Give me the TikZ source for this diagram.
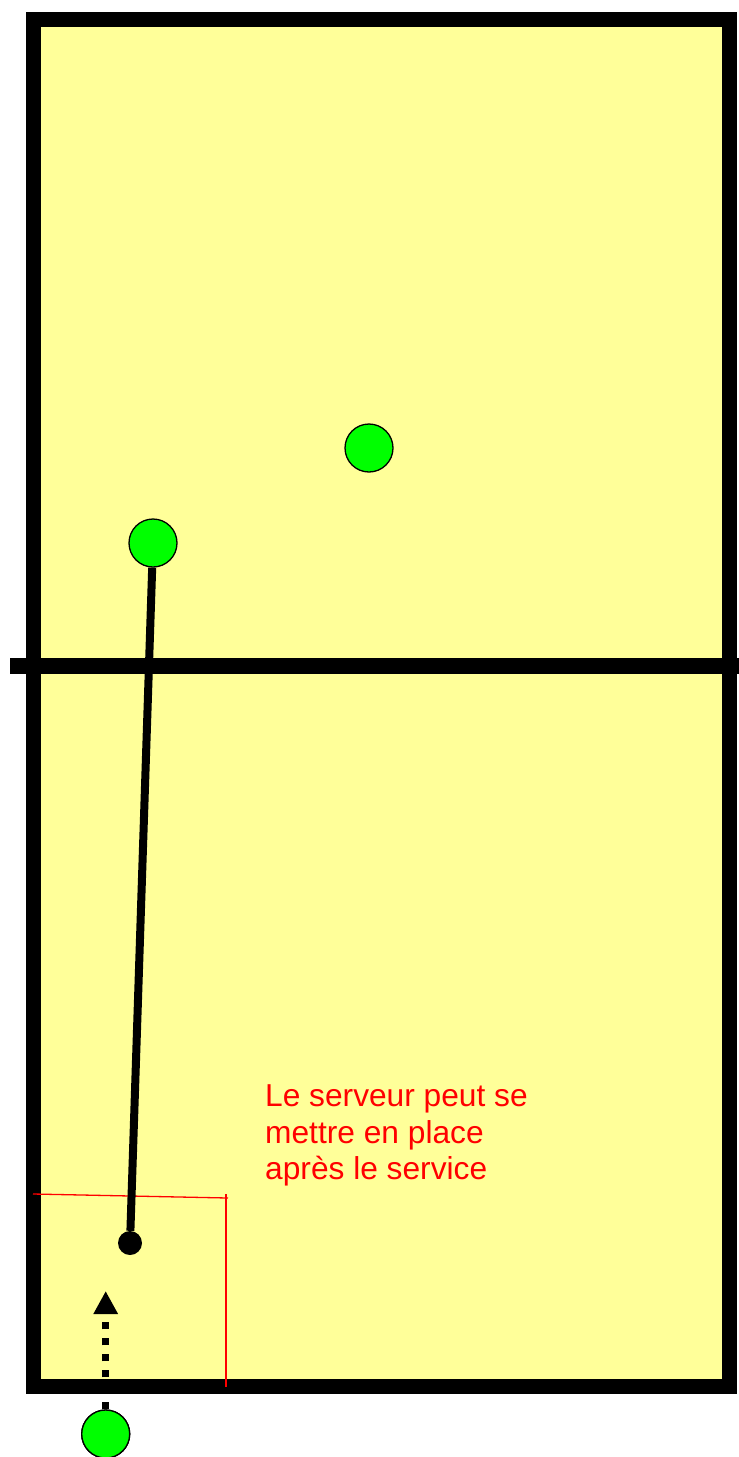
\documentclass[tikz,border=0pt]{standalone}
\usepackage{fontspec}
\setmainfont{Liberation Sans}
\usetikzlibrary{arrows.meta}
\definecolor{terrain}{RGB}{255,255,153}
\definecolor{joueur}{RGB}{0,255,0}
\begin{document}
\begin{tikzpicture}[x=1pt, y=-1pt]
                \useasboundingbox (0,0) rectangle (739,1457);
                \tikzstyle{Joueur} = [circle, draw, fill=joueur, line width=1.3pt, minimum size=48pt, inner sep=0pt]
                \tikzstyle{Ligne} = [line width=15pt]

                % 1. Court and net
                \coordinate (CoinHG) at (33.5, 19);
                \coordinate (CoinBD) at (729.5, 1386);
                \coordinate (FiletG) at (10, 666);
                \coordinate (FiletD) at (739, 666);
                \filldraw[Ligne, fill=terrain] (CoinHG) rectangle (CoinBD);
                \draw[line width=16pt] (FiletG) -- (FiletD);

                % 2. Service zone (red)
                \coordinate (ZoneG)  at (33, 1194);
                \coordinate (ZoneD)  at (228, 1198);
                \coordinate (ZoneH)  at (226, 1194);
                \coordinate (ZoneB)  at (226, 1387);
                \draw[red, line width=1.3pt] (ZoneG) -- (ZoneD);
                \draw[red, line width=1.3pt] (ZoneH) -- (ZoneB);

                % 3. Players
                \node[Joueur] (joueurH) at (369, 448) {};
                \node[Joueur] (joueurG) at (153, 543) {};
                \node[Joueur] (serveur) at (105.7, 1434) {};
                \node[circle, fill, minimum size=24pt, inner sep=0pt] (place) at (130, 1243) {};

                % 4. Movements
                \draw[line width=8pt] (joueurG) -- (place);   % Server's run to his place
                \coordinate (FlecheFin) at (105.7, 1291);
                \draw[line width=7pt, dash pattern=on 7pt off 9pt,
                      -{Triangle[width=23pt, length=23pt]}] (serveur.north) -- (FlecheFin);
                \node[Joueur] at (serveur) {};

                % 5. Comment
                \node[red, anchor=north west, inner sep=0pt, align=left,
                      font={\fontsize{31.7}{36.5}\selectfont}] (note) at (265, 1084.5)
                     {Le serveur peut se\\mettre en place\\après le service};

            \end{tikzpicture}
\end{document}
